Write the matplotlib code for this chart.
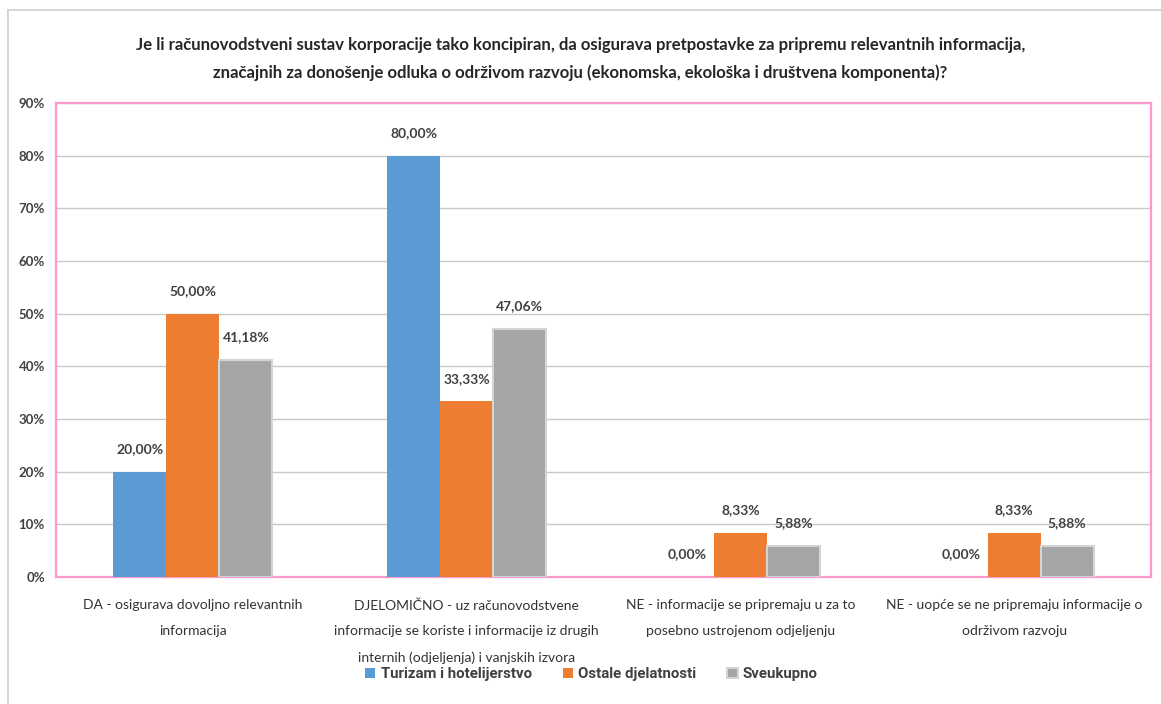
import matplotlib.pyplot as plt
from matplotlib.lines import Line2D
import numpy as np

# data
categories = [
    "DA - osigurava dovoljno relevantnih\ninformacija",
    "DJELOMIČNO - uz računovodstvene\ninformacije se koriste i informacije iz drugih\ninternih (odjeljenja) i vanjskih izvora",
    "NE - informacije se pripremaju u za to\nposebno ustrojenom odjeljenju",
    "NE - uopće se ne pripremaju informacije o\nodrživom razvoju",
]
series_names = ["Turizam i hotelijerstvo", "Ostale djelatnosti", "Sveukupno"]
turizam = [20.00, 80.00, 0.00, 0.00]
ostale = [50.00, 33.33, 8.33, 8.33]
sveukupno = [41.18, 47.06, 5.88, 5.88]

colors = ["#5B9BD5", "#ED7D31", "#A5A5A5"]
edges = ["none", "none", "#D4D4D4"]
plt.rcParams["font.family"] = ["Lato", "DejaVu Sans"]

fig = plt.figure(figsize=(11.61, 7.04), dpi=100)
ax = fig.add_axes([0.0482, 0.1804, 0.9432, 0.6733])

# light frame around the chart (top and left visible)
fig.add_artist(Line2D([8 / 1161, 1], [1 - 10 / 704, 1 - 10 / 704], color="#D0D0D0", lw=1.2))
fig.add_artist(Line2D([8 / 1161, 8 / 1161], [0, 1 - 10 / 704], color="#D0D0D0", lw=1.2))

x = np.arange(len(categories))
w = 0.1936
for i, (vals, name) in enumerate(zip([turizam, ostale, sveukupno], series_names)):
    pos = x + (i - 1) * w
    ax.bar(pos, vals, width=w, color=colors[i], edgecolor=edges[i],
           linewidth=1.5 if i == 2 else 0, label=name, zorder=3)
    for xp, v in zip(pos, vals):
        ax.annotate(f"{v:.2f}%".replace(".", ","), (xp, v), xytext=(0, 12),
                    textcoords="offset points", ha="center", va="bottom",
                    fontsize=10, fontweight="bold", color="#404040")

ax.set_xlim(-0.5, 3.5)
ax.set_ylim(0, 90)
ax.set_yticks(range(0, 91, 10))
ax.set_yticklabels([f"{t}%" for t in range(0, 91, 10)])
ax.yaxis.grid(True, color="#C8C8C8", lw=1, zorder=0)
ax.tick_params(axis="y", length=0, pad=8, labelsize=9.5, labelcolor="#404040")
for lab in ax.get_yticklabels():
    lab.set_fontweight("bold")
ax.set_xticks(x)
ax.set_xticklabels(categories, fontsize=10, color="#333333", linespacing=2.35)
ax.tick_params(axis="x", length=0, pad=16)
for s in ax.spines.values():
    s.set_color("#FF99CC")
    s.set_linewidth(1.6)

fig.suptitle("Je li računovodstveni sustav korporacije tako koncipiran, da osigurava pretpostavke za pripremu relevantnih informacija,\n"
             "značajnih za donošenje odluka o održivom razvoju (ekonomska, ekološka i društvena komponenta)?",
             x=0.5, y=0.947, fontsize=12.1, fontweight="bold", color="#262626", linespacing=1.85)

ax.legend(loc="center", bbox_to_anchor=(0.489, -0.205), ncol=3, frameon=False,
          prop={"family": "Roboto", "size": 10.8, "weight": "bold"},
          handlelength=0.7, handleheight=0.7,
          handletextpad=0.35, columnspacing=2.05, labelcolor="#404040")

fig.savefig("out.png", dpi=100)
